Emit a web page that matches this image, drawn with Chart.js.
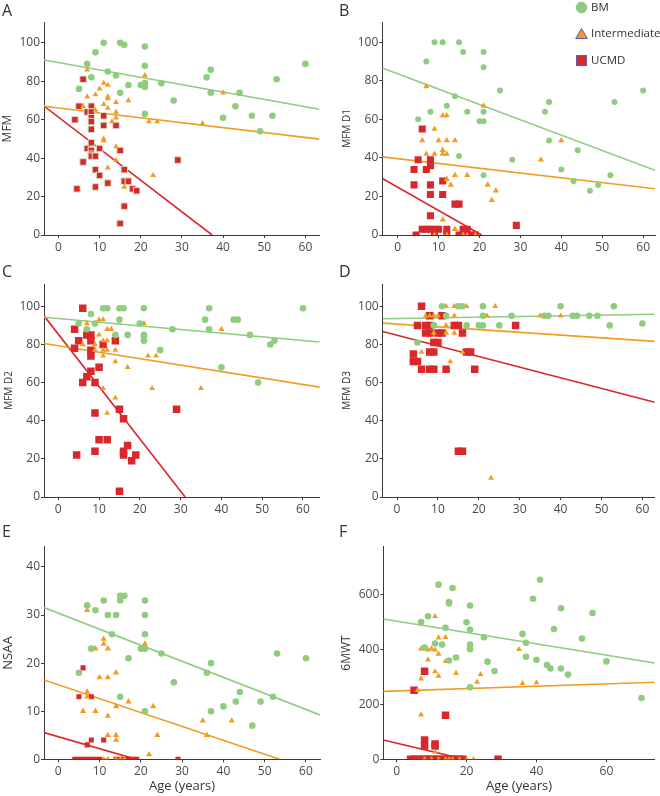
<!DOCTYPE html>
<html>
<head>
<meta charset="utf-8">
<script src="https://cdn.jsdelivr.net/npm/chart.js@4.4.1/dist/chart.umd.min.js"></script>
<style>
  body { margin: 0; background: #fff; font-family: "Open Sans", sans-serif; }
  #wrap { position: relative; width: 660px; height: 796px; overflow: hidden; }
  #wrap canvas { position: absolute; }
  .tag { position: absolute; font-size: 16px; color: #333; line-height: 1; }
  .key { position: absolute; left: 575px; font-size: 11.5px; color: #333; line-height: 14px; display: flex; align-items: center; }
  .key svg { margin-right: 3px; }
</style>
</head>
<body>
<div id="wrap">
  <div class="tag" style="left:2px;top:2px">A</div>
  <div class="tag" style="left:339px;top:2px">B</div>
  <div class="tag" style="left:2px;top:263px">C</div>
  <div class="tag" style="left:339px;top:263px">D</div>
  <div class="tag" style="left:2px;top:523px">E</div>
  <div class="tag" style="left:339px;top:523px">F</div>

  <div class="key" style="top:0px"><svg width="13" height="13"><circle cx="6.5" cy="6.5" r="5.3" fill="#8fcd7e" stroke="#7fb86f" stroke-width="0.8"/></svg>BM</div>
  <div class="key" style="top:26px"><svg width="13" height="13"><polygon points="6.5,1.5 12.3,11.5 0.7,11.5" fill="#f39c24" stroke="#5b5ea6" stroke-width="1"/></svg>Intermediate</div>
  <div class="key" style="top:53px"><svg width="13" height="13"><rect x="1.5" y="1.5" width="10" height="10" fill="#d8282c" stroke="#6a5aa8" stroke-width="1"/></svg>UCMD</div>
</div>
<script>
// [age, score] per group
const A_BM = [[7,89],[5,76],[8,82],[9,95],[11,100],[12,85],[14,83],[15,100],[16,99],[15,74],[17,78],[20,78],[21,98],[21,88],[21,79],[21,77],[21,63],[25,79],[28,70],[36,82],[37,86],[37,74],[40,61],[43,67],[44,74],[47,62],[49,54],[52,62],[53,81],[60,89]];
const A_INT = [[7,86],[7,72],[6,67],[9,73],[10,76],[9,65],[11,79],[12,78],[11,68],[12,72],[12,71],[12,66],[13,59],[14,69],[14,64],[14,61],[17,70],[11,50],[11,49],[14,46],[14,39],[12,35],[16,25],[21,83],[22,59],[24,59],[23,31],[35,58],[40,74]];
const A_UCMD = [[6,81],[5,67],[4,60],[8,67],[7,64],[8,64],[8,61],[8,59],[8,55],[11,62],[11,57],[14,57],[7,45],[8,48],[8,44],[8,42],[8,41],[9,41],[10,45],[15,44],[6,38],[9,34],[10,31],[16,34],[16,28],[17,28],[12,27],[4.5,24],[9,25],[18,24],[19,23],[29,39],[16,15],[15,6]];

const B_BM = [[7,90],[9,100],[11,100],[15,100],[16,95],[21,95],[21,87],[25,75],[5,60],[8,64],[12,67],[14,72],[17,64],[21,64],[20,59],[21,59],[15,41],[21,31],[28,39],[36,64],[37,69],[37,49],[40,34],[43,28],[44,44],[47,23],[49,26],[52,31],[53,69],[60,75]];
const B_INT = [[7,77],[6,49],[7,42],[9,55],[9,42],[10,49],[11,62],[12,62],[11,44],[11,42],[12,49],[12,42],[14,49],[12,29],[13,26],[14,31],[17,31],[11,8],[14,3],[21,67],[22,26],[24,23],[23,18],[35,39],[40,49],[9,0],[12,0],[16,0],[19,0]];
const B_UCMD = [[6,55],[5,39],[4,34],[7,34],[8,39],[8,36],[4,26],[8,26],[8,21],[11,21],[11,28],[8,10],[14,16],[15,16],[29,5],[6,3],[7,3],[8,3],[9,3],[10,3],[12,3],[16,3],[17,3],[4.5,0],[9,0],[12,0],[15,0],[16,0],[18,0],[19,0]];

const C_BM = [[5,91],[7,88],[8,96],[9,91],[11,99],[12,99],[15,99],[16,99],[15,93],[14,85],[17,85],[20,91],[21,99],[21,85],[21,84],[21,82],[25,77],[28,88],[36,93],[37,99],[37,88],[40,68],[43,93],[44,93],[47,85],[49,60],[52,80],[53,82],[60,99]];
const C_INT = [[7,91],[6,80],[9,80],[9,77],[10,93],[11,93],[10,85],[12,88],[13,88],[11,82],[12,82],[11,77],[11,74],[12,77],[14,77],[14,71],[17,68],[11,57],[14,52],[12,44],[21,91],[22,74],[24,74],[23,57],[35,57],[40,88]];
const C_UCMD = [[6,99],[4,88],[5,82],[4,78],[7,85],[8,85],[8,82],[8,77],[8,74],[8,66],[7,63],[6,60],[9,60],[10,68],[11,80],[14,82],[9,44],[15,46],[16,41],[10,30],[12,30],[17,27],[16,24],[9,24],[16,22],[19,22],[18,19],[4.5,22],[29,46],[15,3]];

const D_BM = [[5,81],[11,100],[15,100],[16,100],[21,100],[9,90],[17,90],[20,90],[21,90],[25,90],[21,95],[28,95],[36,95],[37,95],[40,100],[43,95],[44,95],[47,95],[49,95],[53,100],[52,90],[60,91],[12,95]];
const D_INT = [[7,95],[8,95],[9,95],[10,95],[12,100],[14,100],[17,100],[21,100],[24,100],[14,95],[22,95],[12,90],[9,86],[12,86],[14,86],[6,76],[13,71],[16,76],[35,95],[40,95],[23,10]];
const D_UCMD = [[6,100],[5,90],[7,90],[8,90],[8,95],[11,95],[7,86],[8,86],[10,86],[11,86],[14,90],[15,90],[16,86],[9,81],[10,81],[4,75],[4,71],[5,71],[8,76],[9,76],[17,76],[18,76],[6,67],[8,67],[9,67],[12,67],[19,67],[29,90],[15,24],[16,24]];

const E_BM = [[5,18],[7,32],[9,31],[8,23],[11,33],[12,30],[13,26],[14,30],[15,34],[16,34],[15,33],[15,13],[17,21],[20,23],[21,33],[21,30],[21,26],[21,23],[21,10],[25,22],[28,16],[36,18],[37,20],[37,10],[40,11],[43,12],[44,14],[47,7],[49,12],[52,13],[53,22],[60,21]];
const E_INT = [[7,31],[9,23],[11,25],[11,24],[12,23],[10,17],[12,17],[14,18],[7,14],[7,13],[6,10],[9,10],[12,9],[14,11],[17,12],[12,5],[14,5],[14,4],[21,24],[23,11],[24,5],[22,1],[35,8],[36,5],[42,8],[11,0],[12,0],[14,0],[15,0],[16,0]];
const E_UCMD = [[6,19],[5,13],[8,13],[8,4],[11,4],[7,3],[4,0],[5,0],[6,0],[7,0],[8,0],[9,0],[10,0],[14,0],[15,0],[16,0],[17,0],[18,0],[19,0],[29,0]];

const F_BM = [[7,499],[8,406],[9,520],[12,635],[11,421],[14,478],[13,417],[15,572],[15,567],[16,623],[15,359],[17,370],[21,559],[20,498],[21,471],[21,417],[21,400],[21,262],[25,444],[26,355],[28,321],[36,456],[37,424],[37,373],[39,584],[41,653],[40,362],[43,343],[44,330],[45,474],[47,549],[47,330],[49,308],[53,439],[56,532],[60,356],[70,223]];
const F_INT = [[11,520],[12,442],[14,444],[7,402],[9,398],[10,402],[11,398],[12,383],[9,362],[14,356],[11,319],[12,303],[17,313],[7,293],[7,162],[24,309],[23,281],[35,400],[36,276],[40,279],[6,251],[11,27],[21,410],[8,0],[10,0],[12,0],[14,0],[15,0],[16,0],[18,0],[20,0],[22,0]];
const F_UCMD = [[5,251],[8,320],[14,160],[8,70],[8,48],[11,56],[11,48],[4,0],[5,0],[6,0],[7,0],[8,0],[9,0],[10,0],[11,0],[12,0],[13,0],[14,0],[15,0],[16,0],[17,0],[18,0],[19,0],[29,0]];

// regression lines: [intercept at age 0, slope] for BM, Intermediate, UCMD
const A_FIT = [[89.7, -0.383], [66.1, -0.256], [61.3, -1.642]];
const B_FIT = [[83.7, -0.797], [39.6, -0.248], [24.8, -1.208]];
const C_FIT = [[93.6, -0.192], [79.3, -0.338], [85.4, -2.746]];
const D_FIT = [[93.6, 0.035], [90.7, -0.144], [84.8, -0.558]];
const E_FIT = [[30.4, -0.334], [15.5, -0.289], [4.7, -0.249]];
const F_FIT = [[502.4, -2.065], [248.6, 0.426], [58.8, -3.017]];

const AGE_TICKS = [0, 10, 20, 30, 40, 50, 60];
const AGE_TICKS_F = [0, 20, 40, 60];
const MFM_TICKS = [0, 20, 40, 60, 80, 100];
const NSAA_TICKS = [0, 10, 20, 30, 40];
const MWT_TICKS = [0, 200, 400, 600];

const GREEN = '#8fcd7e', ORANGE = '#f39c24', RED = '#d8282c';
const AXIS = '#3a3a3a', TXT = '#4a4a4a';

const panels = [
  { bm: A_BM, mid: A_INT, ucmd: A_UCMD, fit: A_FIT, left: 0, top: 0, w: 325, h: 260,
    area: { l: 44, r: 320, t: 22, b: 235 }, x: [-3.5, 63.4], xt: AGE_TICKS, y: [0, 110.8], yt: MFM_TICKS,
    yTitle: 'MFM', ySize: 12, yPad: 0.8, r: [3.3, 3.4, 4.6], sqEdge: '#d6e4c8' },
  { bm: B_BM, mid: B_INT, ucmd: B_UCMD, fit: B_FIT, left: 330, top: 0, w: 330, h: 260,
    area: { l: 52.3, r: 325, t: 22, b: 235 }, x: [-3.76, 62.9], xt: AGE_TICKS, y: [0, 110.5], yt: MFM_TICKS,
    yTitle: 'MFM D1', ySize: 10, yPad: 10.7, r: [3, 3.6, 5] },
  { bm: C_BM, mid: C_INT, ucmd: C_UCMD, fit: C_FIT, left: 0, top: 260, w: 325, h: 260,
    area: { l: 44, r: 320, t: 24, b: 237 }, x: [-3.5, 64.1], xt: AGE_TICKS, y: [0, 111.7], yt: MFM_TICKS,
    yTitle: 'MFM D2', ySize: 10, yPad: 3, r: [3.3, 3.4, 5.3] },
  { bm: D_BM, mid: D_INT, ucmd: D_UCMD, fit: D_FIT, left: 330, top: 260, w: 330, h: 260,
    area: { l: 52.7, r: 325, t: 24, b: 237 }, x: [-3.5, 63], xt: AGE_TICKS, y: [0, 111.7], yt: MFM_TICKS,
    yTitle: 'MFM D3', ySize: 10, yPad: 11.3, r: [3.3, 3.4, 5.3] },
  { bm: E_BM, mid: E_INT, ucmd: E_UCMD, fit: E_FIT, left: 0, top: 510, w: 325, h: 286,
    area: { l: 44, r: 320, t: 36.7, b: 249.3 }, x: [-3.46, 63.4], xt: AGE_TICKS, y: [0, 44.2], yt: NSAA_TICKS,
    yTitle: 'NSAA', ySize: 13, yPad: 0.2, xTitle: 'Age (years)', r: [3.3, 3.6, 3.6] },
  { bm: F_BM, mid: F_INT, ucmd: F_UCMD, fit: F_FIT, left: 330, top: 510, w: 330, h: 286,
    area: { l: 53.3, r: 325, t: 36.7, b: 249.3 }, x: [-3.8, 73.8], xt: AGE_TICKS_F, y: [0, 773], yt: MWT_TICKS,
    yTitle: '6MWT', ySize: 12, yPad: 9.5, xTitle: 'Age (years)', r: [3.3, 3.4, 5.3] }
];

const toPts = arr => arr.map(([x, y]) => ({ x: x, y: y }));

// endpoints of a fitted line over the axis range, cut where it reaches 0
const fitLine = ([b, m], xmin, xmax) => {
  let x2 = xmax;
  if (m < 0 && b + m * xmax < 0) x2 = -b / m;
  return [{ x: xmin, y: b + m * xmin }, { x: x2, y: b + m * x2 }];
};

const drawPanel = (p) => {
  const cv = document.createElement('canvas');
  cv.width = p.w;
  cv.height = p.h;
  cv.style.left = p.left + 'px';
  cv.style.top = p.top + 'px';
  document.getElementById('wrap').prepend(cv);

  const marks = (data, color, style, radius, edge) => ({
    data: toPts(data),
    pointStyle: style,
    pointRadius: radius,
    backgroundColor: color,
    borderColor: edge || color,
    borderWidth: edge ? 1 : 0,
    showLine: false
  });
  const trend = (fit, color) => ({
    data: fitLine(fit, p.x[0], p.x[1]),
    showLine: true,
    pointRadius: 0,
    borderColor: color,
    borderWidth: 1.6,
    fill: false
  });

  const tickFont = { family: 'Open Sans', size: 12 };

  new Chart(cv, {
    type: 'scatter',
    data: {
      datasets: [
        marks(p.bm, GREEN, 'circle', p.r[0]),
        marks(p.mid, ORANGE, 'triangle', p.r[1]),
        marks(p.ucmd, RED, 'rect', p.r[2], p.sqEdge),
        trend(p.fit[0], GREEN),
        trend(p.fit[1], ORANGE),
        trend(p.fit[2], RED)
      ]
    },
    options: {
      responsive: false,
      animation: false,
      layout: { padding: { top: p.area.t, right: p.w - p.area.r, left: 0, bottom: 0 } },
      plugins: { legend: { display: false }, tooltip: { enabled: false } },
      scales: {
        x: {
          type: 'linear',
          min: p.x[0],
          max: p.x[1],
          afterBuildTicks: s => { s.ticks = p.xt.map(v => ({ value: v })); },
          afterFit: s => { s.height = p.h - p.area.b; },
          grid: { drawOnChartArea: false, drawTicks: true, tickLength: 3, color: AXIS },
          border: { color: AXIS, width: 1 },
          ticks: { font: tickFont, color: TXT, padding: 2 },
          title: {
            display: !!p.xTitle,
            text: p.xTitle || '',
            font: { family: 'Open Sans', size: 13 },
            color: '#333',
            padding: { top: 0, bottom: 1.5 }
          }
        },
        y: {
          type: 'linear',
          min: p.y[0],
          max: p.y[1],
          afterBuildTicks: s => { s.ticks = p.yt.map(v => ({ value: v })); },
          afterFit: s => { s.width = p.area.l; },
          grid: { drawOnChartArea: false, drawTicks: true, tickLength: 3, color: AXIS },
          border: { color: AXIS, width: 1 },
          ticks: { font: tickFont, color: TXT, padding: 1 },
          title: {
            display: true,
            text: p.yTitle,
            font: { family: 'Open Sans', size: p.ySize },
            color: '#333',
            padding: { top: p.yPad, bottom: 0 }
          }
        }
      }
    }
  });
};

panels.forEach(drawPanel);
</script>
</body>
</html>
